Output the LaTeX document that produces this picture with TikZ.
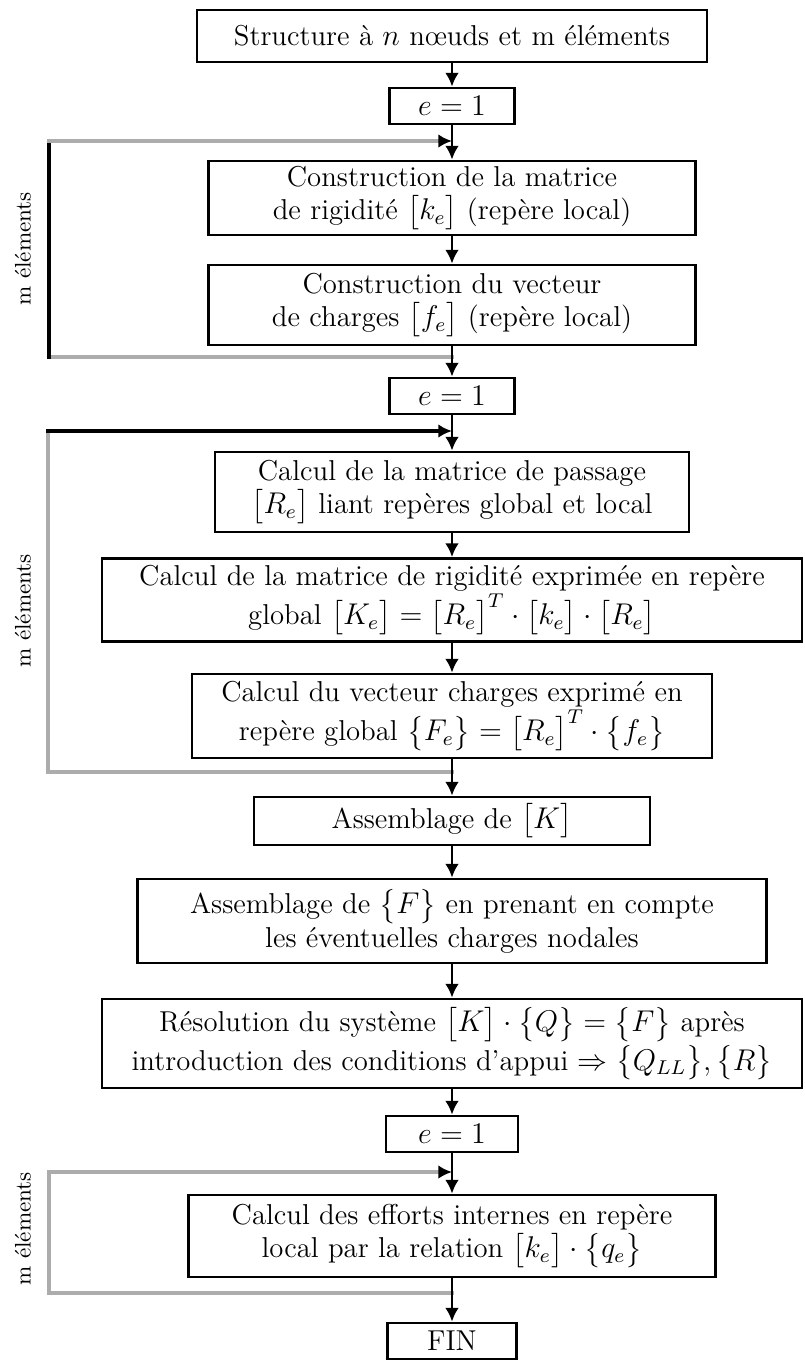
\documentclass[tikz,border=0pt]{standalone}
\usepackage{amsmath}
\usepackage{amssymb}
\usepackage{fontspec}
\usepackage{tikz}
\usetikzlibrary{positioning}
\usetikzlibrary{arrows.meta}

\begin{document}
\begin{tikzpicture}[x=0.4pt, y=-0.4pt]

  \tikzstyle{block}=[rectangle, draw=black, line width=1.1pt, align=center, inner sep=1pt, font=\fontsize{11.5}{13.5}\selectfont]
  \tikzstyle{counter}=[block, minimum width=50pt, minimum height=14.4pt]
  \tikzstyle{connect}=[-{Latex[length=5.5pt, width=5.5pt]}, line width=1.1pt]
  \tikzstyle{back}=[line width=1.5pt, draw=gray!65, line cap=rect]
  \tikzstyle{backin}=[back, -{Latex[length=5.5pt, width=5.5pt, black]}]
  \tikzstyle{loopname}=[rotate=90, font=\fontsize{9}{10}\selectfont]

  \useasboundingbox (0,0) rectangle (805,1360);

  \node[block, minimum width=204pt, minimum height=20.8pt] (struct) at (452,36) {Structure à $n$ nœuds et m éléments};
  \node[counter, node distance=28pt] (init1) [below of = struct] {$e=1$};
  \node[block, minimum width=194.8pt, minimum height=29.6pt, node distance=36.8pt] (kloc) [below of = init1] {Construction de la matrice\\de rigidité $\big[k_e\big]$ (repère local)};
  \node[block, minimum width=194.8pt, minimum height=32pt, node distance=42.8pt] (floc) [below of = kloc] {Construction du vecteur\\de charges $\big[f_e\big]$ (repère local)};
  \node[counter, node distance=36.4pt] (init2) [below of = floc] {$e=1$};
  \node[block, minimum width=189.6pt, minimum height=32pt, node distance=38.4pt] (pass) [below of = init2] {Calcul de la matrice de passage\\$\big[R_e\big]$ liant repères global et local};
  \node[block, minimum width=280pt, minimum height=33.2pt, node distance=43.2pt] (kglob) [below of = pass] {Calcul de la matrice de rigidité exprimée en repère\\global $\big[K_e\big]=\big[R_e\big]^T\cdot\big[k_e\big]\cdot\big[R_e\big]$};
  \node[block, minimum width=208pt, minimum height=33.6pt, node distance=46.4pt] (fglob) [below of = kglob] {Calcul du vecteur charges exprimé en\\repère global $\big\{F_e\big\}=\big[R_e\big]^T\cdot\big\{f_e\big\}$};
  \node[block, minimum width=158.4pt, minimum height=19.2pt, node distance=42pt] (asmK) [below of = fglob] {Assemblage de $\big[K\big]$};
  \node[block, minimum width=251.6pt, minimum height=33.6pt, node distance=40pt] (asmF) [below of = asmK] {Assemblage de $\big\{F\big\}$ en prenant en compte\\les éventuelles charges nodales};
  \node[block, minimum width=280pt, minimum height=35.6pt, node distance=49pt] (solve) [below of = asmF] {Résolution du système $\big[K\big]\cdot\big\{Q\big\}=\big\{F\big\}$ après\\introduction des conditions d'appui $\Rightarrow\big\{Q_{LL}\big\},\big\{R\big\}$};
  \node[counter, minimum width=52.8pt, node distance=36.2pt] (init3) [below of = solve] {$e=1$};
  \node[block, minimum width=210.8pt, minimum height=32.8pt, node distance=40.8pt] (inner) [below of = init3] {Calcul des efforts internes en repère\\local par la relation $\big[k_e\big]\cdot\big\{q_e\big\}$};
  \node[counter, minimum width=51.6pt, node distance=42pt] (fin) [below of = inner] {FIN};

  % loop corners
  \coordinate (in1) at (452,141);
  \coordinate (out1) at (452,357);
  \coordinate (top1) at (49,141);
  \coordinate (bot1) at (49,357);
  \coordinate (in2) at (452,431);
  \coordinate (out2) at (452,772);
  \coordinate (top2) at (48,431);
  \coordinate (bot2) at (48,772);
  \coordinate (in3) at (452,1172);
  \coordinate (out3) at (452,1293);
  \coordinate (top3) at (49,1172);
  \coordinate (bot3) at (49,1293);

  \draw[back] (out1) -- (bot1);
  \draw[back, draw=black] (bot1) -- (top1);
  \draw[backin] (top1) -- (in1);
  \draw[back] (out2) -- (bot2) -- (top2);
  \draw[backin, draw=black] (top2) -- (in2);
  \draw[back] (out3) -- (bot3) -- (top3);
  \draw[backin] (top3) -- (in3);

  \node[loopname] (rep1) at (23,249) {m éléments};
  \node[loopname] (rep2) at (23,611) {m éléments};
  \node[loopname] (rep3) at (23,1229) {m éléments};

  \path (struct) edge [connect] (init1)
        (init1) edge [connect] (kloc)
        (kloc) edge [connect] (floc)
        (floc) edge [connect] (init2)
        (init2) edge [connect] (pass)
        (pass) edge [connect] (kglob)
        (kglob) edge [connect] (fglob)
        (fglob) edge [connect] (asmK)
        (asmK) edge [connect] (asmF)
        (asmF) edge [connect] (solve)
        (solve) edge [connect] (init3)
        (init3) edge [connect] (inner)
        (inner) edge [connect] (fin);

\end{tikzpicture}
\end{document}
